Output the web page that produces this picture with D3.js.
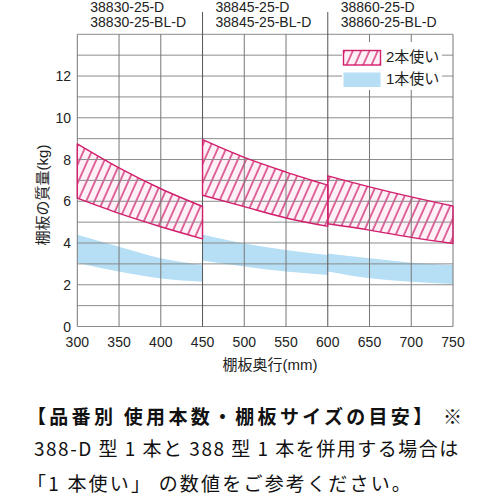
<!DOCTYPE html>
<html>
<head>
<meta charset="utf-8">
<script src="https://cdn.jsdelivr.net/npm/d3@7"></script>
<style>
  body { margin: 0; background: #fff; }
  svg { display: block; }
  .lat { font-family: "Liberation Sans", Arial, "Noto Sans CJK JP", sans-serif; }
  .jp { font-family: "Noto Sans CJK JP", sans-serif; }
</style>
</head>
<body>
<svg id="chart" width="500" height="500"></svg>
<script>
// model numbers per panel
const labelsTop = ["38830-25-D", "38845-25-D", "38860-25-D"];
const labelsBottom = ["38830-25-BL-D", "38845-25-BL-D", "38860-25-BL-D"];
const panelStarts = [300, 450, 600];
const panelDividers = [450, 600];

// depth points (mm) for each panel
const depths = [[300, 350, 400, 450], [450, 500, 550, 600], [600, 650, 700, 750]];

// 2本使い band (kg)
const twoUpper = [[8.75, 7.6, 6.6, 5.75], [8.95, 8.1, 7.4, 6.77], [7.22, 6.69, 6.21, 5.77]];
const twoLower = [[6.15, 5.42, 4.78, 4.2], [6.29, 5.74, 5.2, 4.8], [4.92, 4.62, 4.27, 3.98]];

// 1本使い band (kg)
const oneUpper = [[4.4, 3.82, 3.27, 2.95], [4.41, 3.98, 3.67, 3.43], [3.5, 3.27, 3.06, 2.95]];
const oneLower = [[3.06, 2.63, 2.3, 2.15], [3.16, 2.87, 2.63, 2.47], [2.63, 2.31, 2.15, 2.04]];

const xTicks = [300, 350, 400, 450, 500, 550, 600, 650, 700, 750];
const yLabelTicks = [0, 2, 4, 6, 8, 10, 12];
const legendLabels = ["2本使い", "1本使い"];

const noteLines = [
  "【品番別 使用本数・棚板サイズの目安】 ※",
  "388-D 型 1 本と 388 型 1 本を併用する場合は",
  "「1 本使い」 の数値をご参考ください。"
];

const pink = "#d21f6c";
const pinkFill = "#fdf0f6";
const blue = "#b6def5";

let svg = d3.select("#chart");

let x = d3.scaleLinear().domain([300, 750]).range([77.3, 453]);
let y = d3.scaleLinear().domain([0, 14]).range([326.5, 34.3]);

// hatch pattern
let defs = svg.append("defs");
let pat = defs.append("pattern")
    .attr("id", "hatch")
    .attr("patternUnits", "userSpaceOnUse")
    .attr("width", 7.6)
    .attr("height", 10)
    .attr("patternTransform", "rotate(24)");
pat.append("rect").attr("width", 7.6).attr("height", 10).attr("fill", pinkFill);
pat.append("line")
    .attr("x1", 1).attr("x2", 1).attr("y1", 0).attr("y2", 10)
    .attr("stroke", pink).attr("stroke-width", 1.3);

// bands
let area = d3.area()
    .x(d => x(d.x))
    .y0(d => y(d.lo))
    .y1(d => y(d.hi))
    .curve(d3.curveMonotoneX);

depths.forEach((ds, i) => {
    let one = ds.map((v, j) => ({x: v, lo: oneLower[i][j], hi: oneUpper[i][j]}));
    svg.append("path")
        .attr("d", area(one))
        .attr("fill", blue);
});

// 2本使い bands
depths.forEach((ds, i) => {
    let two = ds.map((v, j) => ({x: v, lo: twoLower[i][j], hi: twoUpper[i][j]}));
    svg.append("path")
        .attr("d", area(two))
        .attr("fill", "url(#hatch)");
});

// grid
let grid = svg.append("g");
grid.selectAll(".hg")
    .data(d3.range(0, 15))
    .enter()
    .append("line")
    .attr("x1", x(300)).attr("x2", x(750))
    .attr("y1", d => y(d)).attr("y2", d => y(d))
    .attr("stroke", "#8c8c8c")
    .attr("stroke-width", 1);

grid.selectAll(".vg")
    .data(xTicks)
    .enter()
    .append("line")
    .attr("x1", d => x(d)).attr("x2", d => x(d))
    .attr("y1", d => panelDividers.includes(d) ? 12 : y(14))
    .attr("y2", y(0))
    .attr("stroke", d => panelDividers.includes(d) ? "#555" : "#777")
    .attr("stroke-width", 1);

// band outlines over the grid
depths.forEach((ds, i) => {
    let two = ds.map((v, j) => ({x: v, lo: twoLower[i][j], hi: twoUpper[i][j]}));
    svg.append("path")
        .attr("d", area(two))
        .attr("fill", "none")
        .attr("stroke", pink)
        .attr("stroke-width", 1.4)
        .attr("stroke-linejoin", "round");
});

// panel labels
panelStarts.forEach((p, i) => {
    svg.append("text").attr("class", "lat")
        .attr("x", x(p) + 13).attr("y", 12)
        .style("font-size", "14px").attr("fill", "#222")
        .text(labelsTop[i]);
    svg.append("text").attr("class", "lat")
        .attr("x", x(p) + 13).attr("y", 27)
        .style("font-size", "14px").attr("fill", "#222")
        .text(labelsBottom[i]);
});

// axis tick labels
svg.selectAll(".xt")
    .data(xTicks)
    .enter()
    .append("text")
    .attr("class", "lat")
    .attr("x", d => x(d))
    .attr("y", 347)
    .attr("text-anchor", "middle")
    .style("font-size", "14px")
    .attr("fill", "#222")
    .text(d => d);

svg.selectAll(".yt")
    .data(yLabelTicks)
    .enter()
    .append("text")
    .attr("class", "lat")
    .attr("x", 71)
    .attr("y", d => y(d) + 5)
    .attr("text-anchor", "end")
    .style("font-size", "14px")
    .attr("fill", "#222")
    .text(d => d);

// axis titles
svg.append("text").attr("class", "lat")
    .attr("x", 270).attr("y", 370)
    .attr("text-anchor", "middle")
    .style("font-size", "15px").attr("fill", "#222")
    .text("棚板奥行(mm)");

svg.append("text").attr("class", "lat")
    .attr("transform", "rotate(-90)")
    .attr("x", -195).attr("y", 48)
    .attr("text-anchor", "middle")
    .style("font-size", "15px").attr("fill", "#222")
    .text("棚板の質量(kg)");

// legend
let leg = svg.append("g");
leg.append("rect")
    .attr("x", 342).attr("y", 42).attr("width", 100).attr("height", 48)
    .attr("fill", "#fff");
leg.append("rect")
    .attr("x", 343.5).attr("y", 50.5).attr("width", 37).attr("height", 14.5)
    .attr("fill", "url(#hatch)")
    .attr("stroke", pink).attr("stroke-width", 1.4);
leg.append("rect")
    .attr("x", 343.5).attr("y", 72.5).attr("width", 37).attr("height", 14.5)
    .attr("fill", blue);
leg.selectAll(".lt")
    .data(legendLabels)
    .enter()
    .append("text")
    .attr("class", "lat")
    .attr("x", 386)
    .attr("y", (d, i) => 62 + i * 22)
    .style("font-size", "15px")
    .attr("fill", "#222")
    .text(d => d);

// note text
svg.append("text").attr("class", "jp")
    .attr("x", 27).attr("y", 424)
    .style("font-size", "19px").style("font-weight", "bold")
    .style("letter-spacing", "3.3px").attr("fill", "#111")
    .text(noteLines[0]);
svg.append("text").attr("class", "jp")
    .attr("x", 34).attr("y", 456)
    .style("font-size", "19px")
    .style("letter-spacing", "1.5px").attr("fill", "#111")
    .text(noteLines[1]);
svg.append("text").attr("class", "jp")
    .attr("x", 27).attr("y", 491)
    .style("font-size", "19px")
    .style("letter-spacing", "2.2px").attr("fill", "#111")
    .text(noteLines[2]);
</script>
</body>
</html>
